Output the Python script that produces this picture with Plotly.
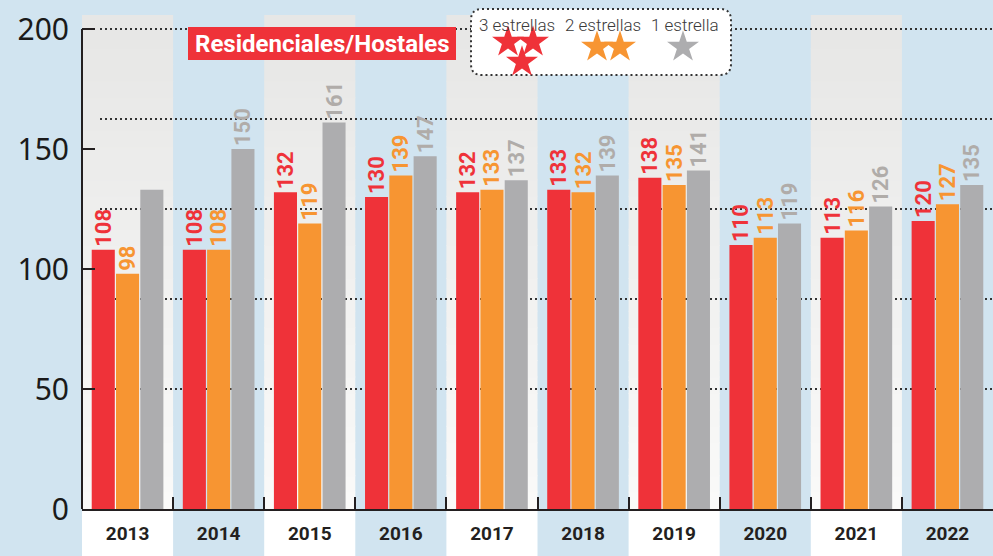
import plotly.graph_objects as go

# ---- data ----
years = ["2013", "2014", "2015", "2016", "2017", "2018", "2019", "2020", "2021", "2022"]
tres_estrellas = [108, 108, 132, 130, 132, 133, 138, 110, 113, 120]
dos_estrellas = [98, 108, 119, 139, 133, 132, 135, 113, 116, 127]
una_estrella = [133, 150, 161, 147, 137, 139, 141, 119, 126, 135]
una_estrella_labels = ["", "150", "161", "147", "137", "139", "141", "119", "126", "135"]
y_ticks = [0, 50, 100, 150, 200]
grid_levels = [200, 162.5, 125, 87.5, 50]

RED = "#ef3239"
ORANGE = "#f79532"
GRAY = "#adadaf"
GRAY_TXT = "#b0aca9"
BLUE = "#d1e4f0"
DARK = "#231f20"
CONDF = "Roboto, sans-serif"

# plot area in pixels
L, R, T, B = 82, 993, 16, 509
W, H = R - L, B - T


def X(px):
    return (px - L) / W


def Y(py):
    return (B - py) / H


xs = list(range(len(years)))

fig = go.Figure()
for vals, col, tcol, labels in [
    (tres_estrellas, RED, RED, [str(v) for v in tres_estrellas]),
    (dos_estrellas, ORANGE, ORANGE, [str(v) for v in dos_estrellas]),
    (una_estrella, GRAY, GRAY_TXT, una_estrella_labels),
]:
    fig.add_trace(go.Bar(
        x=xs, y=vals, marker=dict(color=col, line=dict(width=0)),
        text=labels,
        textposition="outside", textangle=-90,
        textfont=dict(family=CONDF, size=22, color=tcol, weight="bold"),
        constraintext="none", cliponaxis=False, hoverinfo="skip",
    ))

shapes = []
n_strips = 30
for i in xs:
    if i % 2 == 0:
        # light gray band with vertical gradient
        for k in range(n_strips):
            t = k / (n_strips - 1)
            c = int(250 - (250 - 231) * t)
            shapes.append(dict(type="rect", xref="x", yref="paper",
                               x0=i - 0.5, x1=i + 0.5,
                               y0=k / n_strips, y1=(k + 1) / n_strips + 0.002,
                               fillcolor=f"rgb({c},{c},{c - 1})", line=dict(width=0),
                               layer="below"))
        # white label cell below the axis
        shapes.append(dict(type="rect", xref="x", yref="paper",
                           x0=i - 0.5, x1=i + 0.5, y0=Y(556), y1=0,
                           fillcolor="white", line=dict(width=0), layer="below"))

# dotted grid lines
for g in grid_levels:
    shapes.append(dict(type="line", xref="paper", yref="y",
                       x0=X(100), x1=1, y0=g, y1=g,
                       line=dict(color="#333333", width=2, dash="2px,3px"),
                       layer="below"))

# y axis line (0..200)
shapes.append(dict(type="line", xref="paper", yref="y", x0=0, x1=0, y0=0, y1=200,
                   line=dict(color=DARK, width=2), layer="above"))

# title box
shapes.append(dict(type="rect", xref="paper", yref="paper",
                   x0=X(188), x1=X(456), y0=Y(60), y1=Y(27),
                   fillcolor=RED, line=dict(width=0), layer="below"))

# legend rounded box
lx0, lx1, ly0, ly1, rr = 471, 731, 9, 75, 11
def P(px, py):
    return f"{X(px):.5f},{Y(py):.5f}"
path = (f"M {P(lx0 + rr, ly0)} L {P(lx1 - rr, ly0)} Q {P(lx1, ly0)} {P(lx1, ly0 + rr)} "
        f"L {P(lx1, ly1 - rr)} Q {P(lx1, ly1)} {P(lx1 - rr, ly1)} "
        f"L {P(lx0 + rr, ly1)} Q {P(lx0, ly1)} {P(lx0, ly1 - rr)} "
        f"L {P(lx0, ly0 + rr)} Q {P(lx0, ly0)} {P(lx0 + rr, ly0)} Z")
shapes.append(dict(type="path", xref="paper", yref="paper", path=path,
                   fillcolor="white", line=dict(color="#333333", width=2, dash="2px,3px"),
                   layer="below"))

annotations = [
    dict(text="Residenciales/Hostales", xref="paper", yref="paper",
         x=X(322), y=Y(44), xanchor="center", yanchor="middle", showarrow=False,
         font=dict(family="Roboto, sans-serif", size=24, color="white", weight="bold")),
]
for txt, cx in [("3 estrellas", 517), ("2 estrellas", 603), ("1 estrella", 685)]:
    annotations.append(dict(text=txt, xref="paper", yref="paper", x=X(cx), y=Y(25),
                            xanchor="center", yanchor="middle", showarrow=False,
                            font=dict(family="Roboto, sans-serif", size=17, color="#3a3a3a",
                                      weight=300)))

# legend stars (overlay axes in pixel units)
star_x = [508, 533, 522, 597, 620, 683]
star_y = [42, 42, 62, 47, 47, 47]
star_c = [RED, RED, RED, ORANGE, ORANGE, GRAY]
fig.add_trace(go.Scatter(x=star_x, y=star_y, mode="markers", xaxis="x2", yaxis="y2",
                         marker=dict(symbol="star", size=24, color=star_c, line=dict(width=0)),
                         cliponaxis=False, hoverinfo="skip", showlegend=False))

fig.update_layout(
    width=993, height=556,
    margin=dict(l=L, r=993 - R, t=T, b=556 - B),
    paper_bgcolor=BLUE, plot_bgcolor=BLUE,
    barmode="group", bargap=0.2, bargroupgap=0.05,
    showlegend=False,
    shapes=shapes, annotations=annotations,
    xaxis=dict(range=[-0.5, 9.5], tickmode="array", tickvals=xs, ticktext=years,
               ticks="", showgrid=False, zeroline=False,
               showline=True, linecolor=DARK, linewidth=2,
               tickfont=dict(family=CONDF, size=19, color=DARK, weight="bold"),
               ticklabelstandoff=6,
               minor=dict(tickmode="array", tickvals=[i + 0.5 for i in xs[:-1]],
                          ticks="inside", ticklen=12, tickwidth=2, tickcolor=DARK,
                          showgrid=False)),
    yaxis=dict(range=[0, (B - T) / 2.4], tickmode="array", tickvals=y_ticks,
               ticks="inside", ticklen=13, tickwidth=2, tickcolor=DARK,
               showgrid=False, zeroline=False, showline=False,
               tickfont=dict(family="Noto Sans, sans-serif", size=30, color="#1a1a1a"),
               ticklabelstandoff=12),
    xaxis2=dict(range=[L, R], overlaying="x", visible=False, domain=[0, 1]),
    yaxis2=dict(range=[B, T], overlaying="y", visible=False),
)

fig.write_html("out.html", config={"displayModeBar": False},
               post_script="document.body.style.margin='0';document.body.style.padding='0';")
